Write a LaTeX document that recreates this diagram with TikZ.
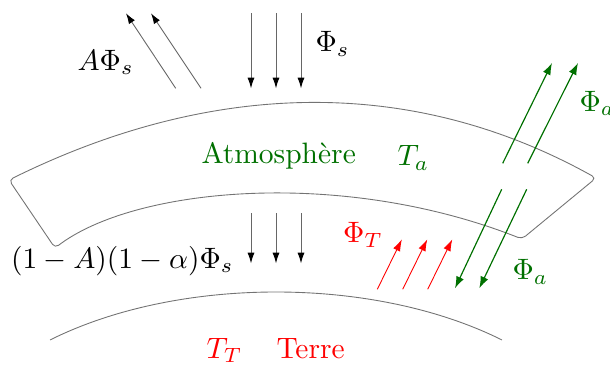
\documentclass[tikz,border=0pt]{standalone}
\usetikzlibrary{arrows.meta}
\definecolor{dgreen}{RGB}{0,112,0}
\begin{document}
\begin{tikzpicture}[x=0.339pt,y=-0.339pt,
  outline/.style={draw=black!55,line width=0.3pt},
  flux/.style={draw=black!60,line width=0.3pt,-{Latex[length=3.6pt,width=2.4pt,black]}},
  gflux/.style={dgreen,line width=0.4pt,-{Latex[length=4pt,width=2.8pt]}},
  rflux/.style={red,line width=0.3pt,-{Latex[length=4pt,width=2.6pt]}},
  lbl/.style={inner sep=0pt,anchor=base west}]
\useasboundingbox (0,0) rectangle (610,366);
% atmosphere layer
\draw[outline,rounded corners=1.5pt] (9,180) .. controls (191,90) and (395,66) .. (596,178)
  -- (522,239) .. controls (342,168) and (135,187) .. (55,248) -- cycle;
% ground
\draw[outline] (50,340) .. controls (178,276) and (374,276) .. (502,340);
% incoming solar flux
\foreach \i/\x in {1/251,2/276,3/301}{
  \coordinate (ins\i) at (\x,13.3);
  \coordinate (ine\i) at (\x,88.3);
  \draw[flux] (ins\i) -- (ine\i);
  \coordinate (trs\i) at (\x,213.3);
  \coordinate (tre\i) at (\x,263.3);
  \draw[flux] (trs\i) -- (tre\i);
}
% reflected flux
\coordinate (rs1) at (175.7,88.3); \coordinate (re1) at (126,13.3);
\coordinate (rs2) at (201,88.3);   \coordinate (re2) at (151,13.3);
\draw[flux] (rs1) -- (re1);
\draw[flux] (rs2) -- (re2);
% terrestrial flux
\foreach \i/\x in {1/377.3,2/402.7,3/427.7}{
  \coordinate (ts\i) at (\x,289.3);
  \coordinate (te\i) at (\x+24.6,239.3);
  \draw[rflux] (ts\i) -- (te\i);
}
% atmospheric flux
\coordinate (gus1) at (502.7,163.3); \coordinate (gue1) at (552,63);
\coordinate (gus2) at (527.7,163.3); \coordinate (gue2) at (578,63);
\draw[gflux] (gus1) -- (gue1);
\draw[gflux] (gus2) -- (gue2);
\coordinate (gds1) at (501.7,189.3); \coordinate (gde1) at (455,288.3);
\coordinate (gds2) at (526.7,189.3); \coordinate (gde2) at (479.3,288.3);
\draw[gflux] (gds1) -- (gde1);
\draw[gflux] (gds2) -- (gde2);
% labels
\node[lbl] (lAPhi) at (77,70.5) {$A\Phi_s$};
\node[lbl] (lPhis) at (315,52) {$\Phi_s$};
\node[lbl] (ltrans) at (10.5,268.5) {$(1-A)(1-\alpha)\Phi_s$};
\node[lbl,text=red] (lPhiT) at (342.5,243) {$\Phi_T$};
\node[lbl,text=dgreen] (lPhia1) at (579,111.5) {$\Phi_a$};
\node[lbl,text=dgreen] (lPhia2) at (512,280) {$\Phi_a$};
\node[lbl,text=dgreen] (latm) at (201,164) {Atmosphère};
\node[lbl,text=dgreen] (lTa) at (397,166) {$T_a$};
\node[lbl,text=red] (lTT) at (206,358.5) {$T_T$};
\node[lbl,text=red] (lterre) at (276,358.5) {Terre};
\end{tikzpicture}
\end{document}
